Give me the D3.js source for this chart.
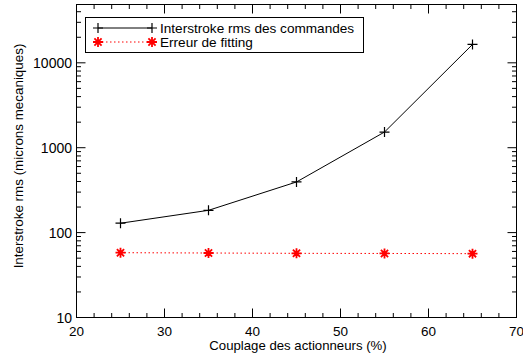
<!DOCTYPE html>
<html><head><meta charset="utf-8">
<script src="https://cdn.jsdelivr.net/npm/d3@7"></script>
<style>body{margin:0;background:#fff}svg{display:block}text{font-family:"Liberation Sans",Arial,sans-serif}</style>
</head><body><svg id="c" width="523" height="357"></svg>
<script>
const xValues = [25, 35, 45, 55, 65];
const interstroke = [129, 183, 395, 1530, 16450];
const fitting = [58, 57.5, 57, 56.8, 56.5];
const xTicks = [20, 30, 40, 50, 60, 70];
const yTicks = [10, 100, 1000, 10000];
const seriesNames = ["Interstroke rms des commandes", "Erreur de fitting"];

const svg = d3.select("#c");
const L = 76.5, R = 516.5, T = 4.5, B = 317.5;
const x = d3.scaleLinear().domain([20, 70]).range([L, R]);
const y = d3.scaleLog().domain([10, Math.pow(10, 4.687)]).range([B, T]);

const g = svg.append("g");
g.append("rect").attr("x", L).attr("y", T).attr("width", R - L).attr("height", B - T)
  .attr("fill", "none").attr("stroke", "#000").attr("stroke-width", 1);

// x ticks
const xMinor = d3.range(20, 70.01, 2);
xMinor.forEach(v => {
  const major = xTicks.includes(v);
  const len = major ? 9 : 4.5;
  g.append("line").attr("x1", x(v)).attr("x2", x(v)).attr("y1", B).attr("y2", B - len).attr("stroke", "#000");
  g.append("line").attr("x1", x(v)).attr("x2", x(v)).attr("y1", T).attr("y2", T + len).attr("stroke", "#000");
});
xTicks.forEach(v => {
  g.append("text").attr("x", x(v)).attr("y", 336).attr("text-anchor", "middle")
    .attr("font-size", 13.5).text(v);
});

// y ticks
const yMinor = [];
for (let e = 1; e <= 4; e++) for (let m = 1; m <= 9; m++) {
  const v = m * Math.pow(10, e);
  if (v <= y.domain()[1]) yMinor.push({v, major: m === 1});
}
yMinor.forEach(d => {
  const len = d.major ? 9 : 4.5;
  g.append("line").attr("y1", y(d.v)).attr("y2", y(d.v)).attr("x1", L).attr("x2", L + len).attr("stroke", "#000");
  g.append("line").attr("y1", y(d.v)).attr("y2", y(d.v)).attr("x1", R).attr("x2", R - len).attr("stroke", "#000");
});
yTicks.forEach(v => {
  g.append("text").attr("x", 72).attr("y", y(v) + 5).attr("text-anchor", "end")
    .attr("font-size", 14).text(v);
});

// axis titles
g.append("text").attr("x", 298).attr("y", 350).attr("text-anchor", "middle")
  .attr("font-size", 13.2).text("Couplage des actionneurs (%)");
g.append("text").attr("transform", "translate(22.5,156) rotate(-90)").attr("text-anchor", "middle")
  .attr("font-size", 13.4).text("Interstroke rms (microns mecaniques)");

// lines
const line = d3.line().x((d, i) => x(xValues[i])).y(d => y(d));
g.append("path").attr("d", line(interstroke)).attr("fill", "none").attr("stroke", "#000").attr("stroke-width", 1);
g.append("path").attr("d", line(fitting)).attr("fill", "none").attr("stroke", "#f00").attr("stroke-width", 1).attr("stroke-dasharray", "1.5,2.5");

function plus(sel, cx, cy) {
  sel.append("path").attr("d", `M${cx-5},${cy}H${cx+5}M${cx},${cy-5}V${cy+5}`).attr("stroke", "#000").attr("stroke-width", 1.2);
}
function star(sel, cx, cy) {
  const r = 5, d = 3.6;
  sel.append("path").attr("d", `M${cx-r},${cy}H${cx+r}M${cx},${cy-r}V${cy+r}M${cx-d},${cy-d}L${cx+d},${cy+d}M${cx-d},${cy+d}L${cx+d},${cy-d}`)
    .attr("stroke", "#f00").attr("stroke-width", 1.8);
}
interstroke.forEach((v, i) => plus(g, x(xValues[i]), y(v)));
fitting.forEach((v, i) => star(g, x(xValues[i]), y(v)));

// legend
g.append("rect").attr("x", 85.5).attr("y", 17.5).attr("width", 278).attr("height", 35)
  .attr("fill", "#fff").attr("stroke", "#000");
g.append("line").attr("x1", 98).attr("x2", 152).attr("y1", 28).attr("y2", 28).attr("stroke", "#000");
plus(g, 98, 28); plus(g, 152, 28);
g.append("line").attr("x1", 98).attr("x2", 152).attr("y1", 42).attr("y2", 42).attr("stroke", "#f00").attr("stroke-dasharray", "1.5,2.5");
star(g, 98, 42); star(g, 152, 42);
g.append("text").attr("x", 160).attr("y", 32.5).attr("font-size", 13.6).text(seriesNames[0]);
g.append("text").attr("x", 160).attr("y", 47).attr("font-size", 13.6).text(seriesNames[1]);
</script></body></html>
